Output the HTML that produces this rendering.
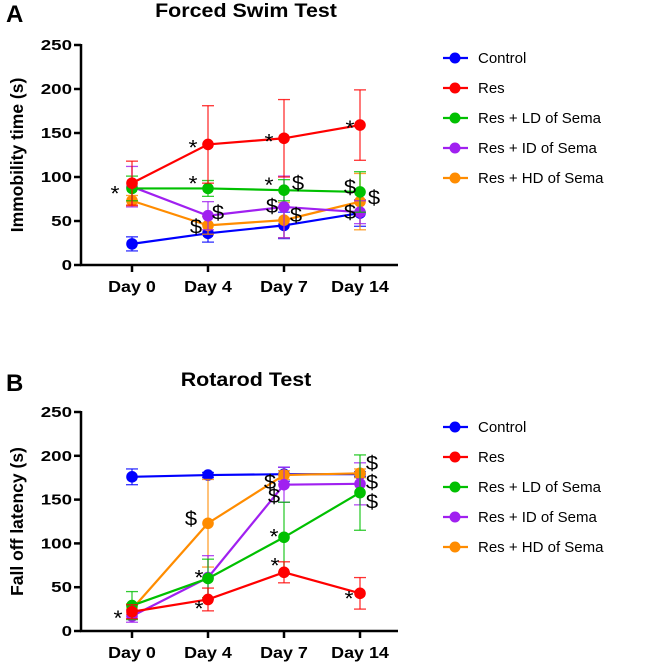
<!DOCTYPE html>
<html><head><meta charset="utf-8"><style>
body{margin:0;background:#fff;font-family:"Liberation Sans",sans-serif}
svg text{font-family:"Liberation Sans",sans-serif}
</style></head><body>
<svg id="s" width="649" height="664"></svg>
<script>
const days=["Day 0","Day 4","Day 7","Day 14"];
const groups=["Control","Res","Res + LD of Sema","Res + ID of Sema","Res + HD of Sema"];
const colors=["#0000ff","#ff0000","#00c000","#a020f0","#ff8c00"];
const yTicks=[0,50,100,150,200,250];
const fstMean=[[24,36,45,59],[93,137,144,159],[87,87,85,83],[89,56,66,60],[73,45,51,72]];
const fstErr=[[8,10,15,15],[25,44,44,40],[14,9,12,23],[23,16,35,13],[6,10,20,32]];
const rotMean=[[176,178,179,179],[22,36,67,43],[29,60,107,158],[17,61,167,168],[25,123,178,180]];
const rotErr=[[9,3,8,3],[8,13,12,18],[16,22,40,43],[7,25,20,24],[6,50,5,5]];
const fstMarks=[["*",0,96,-17,20],["*",1,137,-15,10],["*",2,144,-15,10],["*",3,159,-10,10],["*",1,87,-15,2],["*",2,85,-15,2],["$",2,85,14,0],["$",3,83,-10,2],["$",1,56,10,4],["$",2,66,-12,6],["$",1,45,-12,8],["$",2,51,12,2],["$",3,72,14,3],["$",3,59,-10,6]];
const rotMarks=[["*",0,18,-14,10],["*",1,60,-9,6],["*",1,36,-9,16],["*",2,107,-10,6],["*",2,67,-9,0],["*",3,43,-11,12],["$",1,123,-17,2],["$",2,178,-14,14],["$",2,160,-10,12],["$",3,179,12,-4],["$",3,168,12,5],["$",3,158,12,16]];
const NS="http://www.w3.org/2000/svg";
const svg=document.getElementById('s');
function mk(t,a,p,txt){const e=document.createElementNS(NS,t);for(const k in a)e.setAttribute(k,a[k]);if(txt!=null)e.textContent=txt;(p||svg).appendChild(e);return e;}
function st(x,y,sx,a,p,txt){a.x=0;a.y=0;a.transform=`translate(${x},${y}) scale(${sx},1)`;return mk('text',a,p,txt);}
function panel(oy,y0,y250,letter,title,ytitle,mean,err,marks,key){
 const g=mk('g',{});
 
 
 const xs=i=>132+i*76, ys=v=>y0-(v/250)*(y0-y250);
 const L=mk('text',{x:6,y:oy+22,'font-size':24,'font-weight':'bold'},g,letter);
 
 const T=st(246,oy+17,1.1,{'font-size':19.5,'font-weight':'bold','text-anchor':'middle'},g,title);
 
 const yt=mk('text',{transform:`translate(23,${(y0+y250)/2}) rotate(-90)`,'font-size':17.5,'font-weight':'bold','text-anchor':'middle'},g,ytitle);
 
 mk('line',{x1:81,y1:y250-1,x2:81,y2:y0+1,stroke:'#000','stroke-width':2.5},g);
 mk('line',{x1:80,y1:y0,x2:398,y2:y0,stroke:'#000','stroke-width':2.5},g);
 yTicks.forEach(v=>{mk('line',{x1:74,y1:ys(v),x2:81,y2:ys(v),stroke:'#000','stroke-width':2.5},g);
  const t=st(72,ys(v)+5,1.25,{'font-size':15,'font-weight':'bold','text-anchor':'end'},g,v);
  });
 days.forEach((d,i)=>{mk('line',{x1:xs(i),y1:y0,x2:xs(i),y2:y0+7,stroke:'#000','stroke-width':2.5},g);
  const t=st(xs(i),y0+27,1.12,{'font-size':16,'font-weight':'bold','text-anchor':'middle'},g,d);
  });
 [0,4,3,2,1].forEach(k=>{
  const c=colors[k];
  mean[k].forEach((v,i)=>{const e=err[k][i];
   mk('line',{x1:xs(i),y1:ys(v+e),x2:xs(i),y2:ys(v-e),stroke:c,'stroke-width':1.3,opacity:.8},g);
   [v+e,v-e].forEach(w=>mk('line',{x1:xs(i)-6,y1:ys(w),x2:xs(i)+6,y2:ys(w),stroke:c,'stroke-width':1.3,opacity:.8},g));});
  const pl=mk('polyline',{points:mean[k].map((v,i)=>xs(i)+','+ys(v)).join(' '),fill:'none',stroke:c,'stroke-width':2.2},g);
  
  mean[k].forEach((v,i)=>{const p=mk('circle',{cx:xs(i),cy:ys(v),r:5.8,fill:c},g);
   });
 });
 marks.forEach(m=>{const t=st(xs(m[1])+m[3],ys(m[2])+m[4],1.1,{'font-size':m[0]=='*'?21:20,'text-anchor':'middle'},g,m[0]);
  });
 groups.forEach((n,k)=>{const y=oy+58+k*30;
  const le=mk('g',{},g);
  
  mk('line',{x1:443,y1:y,x2:468,y2:y,stroke:colors[k],'stroke-width':2.2},le);
  mk('circle',{cx:455,cy:y,r:5.5,fill:colors[k]},le);
  mk('text',{x:478,y:y+5,'font-size':15},le,n);});
}
panel(0,265,45,'A','Forced Swim Test','Immobility time (s)',fstMean,fstErr,fstMarks,'forced-swim');
panel(369,631,412,'B','Rotarod Test','Fall off latency (s)',rotMean,rotErr,rotMarks,'rotarod');
</script>
</body></html>
